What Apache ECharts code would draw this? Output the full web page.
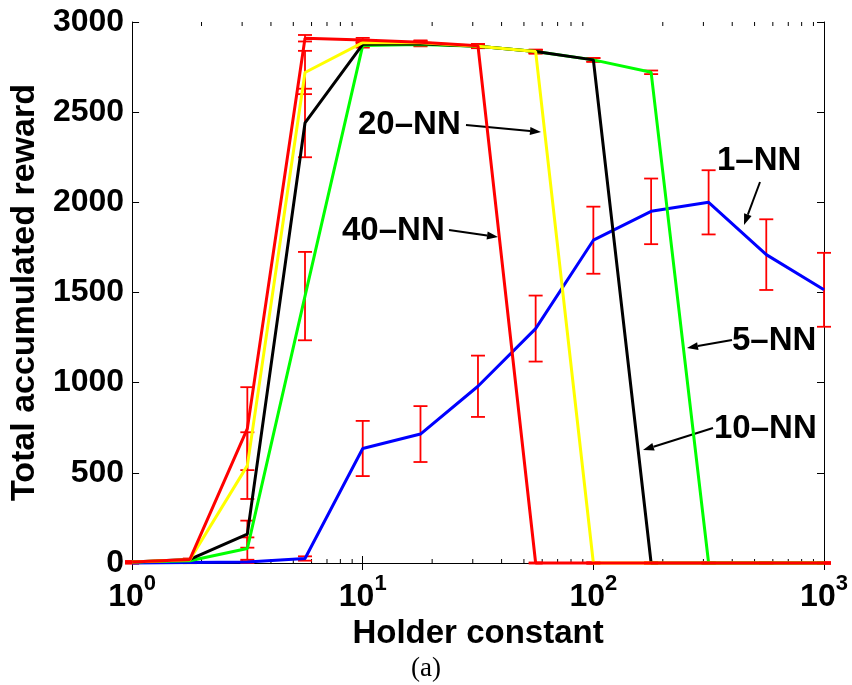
<!DOCTYPE html>
<html>
<head>
    <meta charset="utf-8">
    <title>Holder constant</title>
    <script src="https://cdn.jsdelivr.net/npm/echarts@6/dist/echarts.min.js"></script>
    <style>
        body { margin: 0; background: #fff; }
        #main { width: 852px; height: 685px; }
    </style>
</head>
<body>
    <div id="main"></div>
    <script type="text/javascript">

        // Holder constant (x, log scale)
        var holder = [1, 1.78, 3.16, 5.62, 10, 17.8, 31.6, 56.2, 100, 178, 316, 562, 1000];

        // total accumulated reward, one array per k
        var nn1  = [0, 3, 5, 25, 635, 715, 980, 1300, 1790, 1950, 2000, 1710, 1515];
        var nn5  = [5, 12, 80, 1480, 2870, 2875, 2865, 2836, 2790, 2721, 0, 0, 0];
        var nn10 = [5, 20, 160, 2440, 2876, 2880, 2865, 2836, 2790, 0, 0, 0, 0];
        var nn20 = [5, 18, 540, 2720, 2886, 2885, 2866, 2836, 0, 0, 0, 0, 0];
        var nn40 = [5, 20, 745, 2910, 2900, 2888, 2868, 0, 0, 0, 0, 0, 0];

        // error bar half heights
        var err1  = [4, 4, 5, 12, 153, 155, 170, 183, 186, 182, 178, 196, 205];
        var err5  = [4, 4, 62, 245, 12, 10, 10, 10, 10, 10, 3, 3, 3];
        var err10 = [4, 4, 75, 190, 12, 10, 10, 10, 10, 3, 3, 3, 3];
        var err20 = [4, 4, 185, 120, 12, 10, 10, 10, 3, 3, 3, 3, 3];
        var err40 = [4, 4, 230, 18, 12, 10, 10, 3, 3, 3, 3, 3, 3];

        var minorTicks = [2, 3, 4, 5, 6, 7, 8, 9, 20, 30, 40, 50, 60, 70, 80, 90, 200, 300, 400, 500, 600, 700, 800, 900];

        var font = 'Liberation Sans';
        var myChart = echarts.init(document.getElementById('main'));

        function pairs(ys) {
            return holder.map(function (x, i) { return [x, ys[i]]; });
        }
        function bars(ys, es) {
            return holder.map(function (x, i) { return [x, ys[i] - es[i], ys[i] + es[i]]; });
        }

        function lineSeries(name, ys, color) {
            return {
                name: name,
                type: 'line',
                data: pairs(ys),
                showSymbol: false,
                clip: false,
                lineStyle: { color: color, width: 3 },
                itemStyle: { color: color }
            };
        }

        function errSeries(ys, es) {
            return {
                type: 'custom',
                data: bars(ys, es),
                clip: false,
                encode: { x: 0, y: [1, 2] },
                renderItem: function (params, api) {
                    var x = api.value(0);
                    var top = api.coord([x, api.value(2)]);
                    var bot = api.coord([x, api.value(1)]);
                    var w = 7;
                    var st = { stroke: '#ff0000', lineWidth: 1.8 };
                    return {
                        type: 'group',
                        children: [
                            { type: 'line', shape: { x1: top[0], y1: top[1], x2: bot[0], y2: bot[1] }, style: st },
                            { type: 'line', shape: { x1: top[0] - w, y1: top[1], x2: top[0] + w, y2: top[1] }, style: st },
                            { type: 'line', shape: { x1: bot[0] - w, y1: bot[1], x2: bot[0] + w, y2: bot[1] }, style: st }
                        ]
                    };
                }
            };
        }

        // arrows and their labels (pixel layout)
        var notes = [
            { text: '20–NN', tx: 358, ty: 126, from: [466, 125], to: [541, 132] },
            { text: '40–NN', tx: 342, ty: 232, from: [449, 230], to: [498, 237] },
            { text: '1–NN', tx: 717, ty: 162, from: [760, 182], to: [744, 225] },
            { text: '5–NN', tx: 732, ty: 342, from: [732, 340], to: [687, 348] },
            { text: '10–NN', tx: 714, ty: 430, from: [713, 428], to: [643, 450] }
        ];

        var graphics = [];
        notes.forEach(function (n) {
            graphics.push({
                type: 'text', left: n.tx, top: n.ty - 18,
                style: { text: n.text, font: 'bold 33px ' + font, fill: '#000' }
            });
            var dx = n.to[0] - n.from[0], dy = n.to[1] - n.from[1];
            var len = Math.sqrt(dx * dx + dy * dy);
            var ux = dx / len, uy = dy / len;
            var hl = 11, hw = 4;
            var bx = n.to[0] - ux * hl, by = n.to[1] - uy * hl;
            graphics.push({
                type: 'line',
                shape: { x1: n.from[0], y1: n.from[1], x2: bx, y2: by },
                style: { stroke: '#000', lineWidth: 2 }
            });
            graphics.push({
                type: 'polygon',
                shape: { points: [n.to, [bx - uy * hw, by + ux * hw], [bx + uy * hw, by - ux * hw]] },
                style: { fill: '#000' }
            });
        });
        graphics.push({
            type: 'text', left: 'center', top: 655,
            style: { text: '(a)', font: '27px "Liberation Serif"', fill: '#000' }
        });

        var labelRich = {
            b: { fontSize: 32, fontWeight: 'bold', fontFamily: font, color: '#000', verticalAlign: 'bottom' },
            s: { fontSize: 22, fontWeight: 'bold', fontFamily: font, color: '#000', verticalAlign: 'bottom', padding: [0, 0, 18, 0] }
        };

        var option = {
            backgroundColor: '#fff',
            animation: false,
            grid: { left: 130, right: 28, top: 22, bottom: 122 },
            xAxis: [
                {
                    type: 'log', logBase: 10, min: 1, max: 1000,
                    name: 'Holder constant', nameLocation: 'middle', nameGap: 26,
                    nameTextStyle: { fontSize: 33, fontWeight: 'bold', fontFamily: font, color: '#000' },
                    axisLine: { lineStyle: { color: '#000', width: 1 } },
                    axisTick: { inside: true, length: 7, lineStyle: { color: '#000' } },
                    splitLine: { show: false },
                    axisLabel: {
                        margin: 10,
                        formatter: function (v) {
                            return '{b|10}{s|' + Math.round(Math.log10(v)) + '}';
                        },
                        rich: labelRich
                    }
                },
                {
                    type: 'log', logBase: 10, min: 1, max: 1000, position: 'top',
                    axisLine: { lineStyle: { color: '#000', width: 1 } },
                    axisTick: { inside: true, length: 7, lineStyle: { color: '#000' } },
                    axisLabel: { show: false },
                    splitLine: { show: false }
                }
            ],
            yAxis: [
                {
                    type: 'value', min: 0, max: 3000, interval: 500,
                    name: 'Total accumulated reward', nameLocation: 'middle', nameGap: 86,
                    nameTextStyle: { fontSize: 34, fontWeight: 'bold', fontFamily: font, color: '#000' },
                    axisLine: { show: true, lineStyle: { color: '#000', width: 1 } },
                    axisTick: { show: true, inside: true, length: 7, lineStyle: { color: '#000' } },
                    splitLine: { show: false },
                    axisLabel: {
                        fontSize: 32, fontWeight: 'bold', fontFamily: font, color: '#000', margin: 8,
                        formatter: function (v) { return String(v); }
                    }
                },
                {
                    type: 'value', min: 0, max: 3000, interval: 500, position: 'right',
                    axisLine: { show: true, lineStyle: { color: '#000', width: 1 } },
                    axisTick: { show: true, inside: true, length: 7, lineStyle: { color: '#000' } },
                    axisLabel: { show: false },
                    splitLine: { show: false }
                }
            ],
            series: [
                {
                    type: 'custom',
                    data: minorTicks.map(function (v) { return [v]; }),
                    clip: false,
                    silent: true,
                    renderItem: function (params, api) {
                        var b = api.coord([api.value(0), 0]);
                        var t = api.coord([api.value(0), 3000]);
                        var st = { stroke: '#000', lineWidth: 1 };
                        return {
                            type: 'group',
                            children: [
                                { type: 'line', shape: { x1: b[0], y1: b[1], x2: b[0], y2: b[1] - 4 }, style: st },
                                { type: 'line', shape: { x1: t[0], y1: t[1], x2: t[0], y2: t[1] + 4 }, style: st }
                            ]
                        };
                    }
                },
                lineSeries('1-NN', nn1, '#0000ff'),
                errSeries(nn1, err1),
                lineSeries('5-NN', nn5, '#00ff00'),
                errSeries(nn5, err5),
                lineSeries('10-NN', nn10, '#000000'),
                errSeries(nn10, err10),
                lineSeries('20-NN', nn20, '#ffff00'),
                errSeries(nn20, err20),
                lineSeries('40-NN', nn40, '#ff0000'),
                errSeries(nn40, err40)
            ],
            graphic: graphics
        };

        myChart.setOption(option);
    </script>
</body>
</html>
